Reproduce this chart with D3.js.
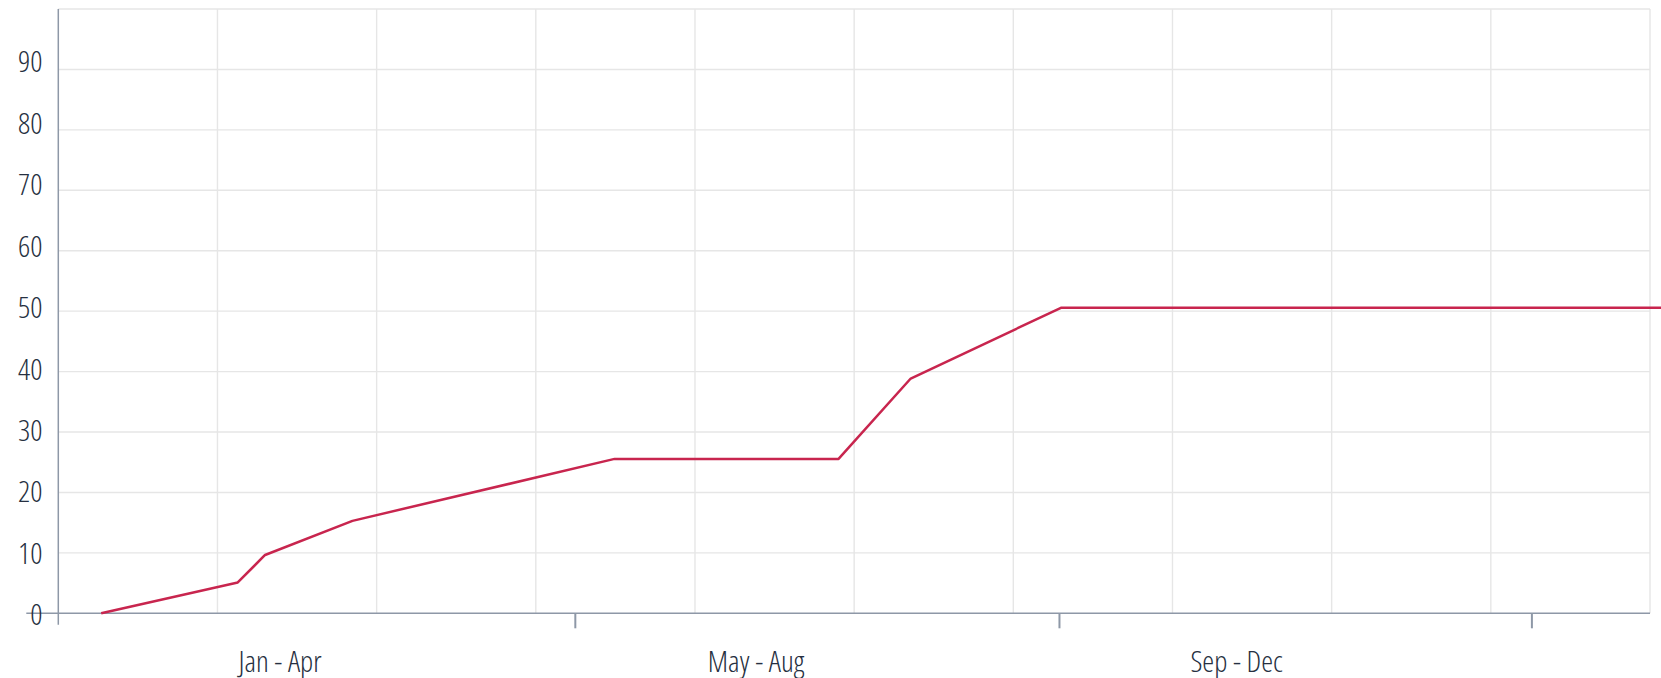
<!DOCTYPE html>
<html><head><meta charset="utf-8">
<script src="https://cdn.jsdelivr.net/npm/d3@7"></script>
<style>body{margin:0;background:#fff;overflow:hidden}</style>
</head><body><svg></svg>
<script>
// x values are days from Jan 1, y values are the running total
var days   = [-1, 34, 41, 63.4, 130.6, 188, 206.5, 245, 420];
var values = [0, 5.1, 9.65, 15.3, 25.55, 25.55, 38.85, 50.55, 50.55];

var periodLabels = ["Jan - Apr", "May - Aug", "Sep - Dec"];
var labelDays    = [44.7, 166.7, 289.9];
var tickDays     = [120.4, 244.5, 365.6];
var yTicks       = [0, 10, 20, 30, 40, 50, 60, 70, 80, 90];

var w = 1661, h = 678,
    mLeft = 58.3, mRight = 1650, mTop = 9, mBottom = 613.3;

var axisColor = "#8e98a7",
    gridColor = "#e6e6e6",
    textColor = "#263041",
    lineColor = "#c8254e",
    font = "'Open Sans', sans-serif";

var svg = d3.select("svg").attr("width", w).attr("height", h);

var x = d3.scaleLinear().domain([-12, 396]).range([mLeft, mRight]);
var y = d3.scaleLinear().domain([0, 100]).range([mBottom, mTop]);
// labels sit on a slightly stretched scale, like in the original
var yLab = d3.scaleLinear().domain([0, 100]).range([mBottom + 0.7, -0.4]);

// grid
var xDom = x.domain();
var vGrid = d3.range(11).map(function(i) { return xDom[0] + i * (xDom[1] - xDom[0]) / 10; });

svg.append("g").selectAll("line")
    .data(d3.range(10, 101, 10))
    .enter().append("line")
    .attr("x1", mLeft).attr("x2", mRight)
    .attr("y1", function(d) { return y(d); })
    .attr("y2", function(d) { return y(d); })
    .attr("stroke", gridColor)
    .attr("stroke-width", 1.4);

svg.append("g").selectAll("line")
    .data(vGrid.slice(1))
    .enter().append("line")
    .attr("x1", function(d) { return x(d); })
    .attr("x2", function(d) { return x(d); })
    .attr("y1", mTop).attr("y2", mBottom)
    .attr("stroke", gridColor)
    .attr("stroke-width", 1.4);

// axes lines
svg.append("line")
    .attr("x1", mLeft).attr("x2", mLeft)
    .attr("y1", mTop).attr("y2", mBottom + 11.5)
    .attr("stroke", axisColor).attr("stroke-width", 1.5);

svg.append("line")
    .attr("x1", mLeft - 32).attr("x2", mRight)
    .attr("y1", mBottom).attr("y2", mBottom)
    .attr("stroke", axisColor).attr("stroke-width", 1.5);

// x tick marks
svg.append("g")
    .attr("transform", "translate(0," + mBottom + ")")
    .call(d3.axisBottom(x).tickValues(tickDays).tickSize(15).tickFormat(""))
    .call(function(g) {
        g.select(".domain").remove();
        g.selectAll("line").attr("stroke", axisColor).attr("stroke-width", 2);
    });

// x labels
svg.append("g")
    .attr("transform", "translate(0," + mBottom + ")")
    .call(d3.axisBottom(x).tickValues(labelDays).tickSize(0)
        .tickFormat(function(d, i) { return periodLabels[i]; }))
    .call(function(g) {
        g.select(".domain").remove();
        g.selectAll("text")
            .attr("y", 0).attr("dy", 0)
            .attr("transform", "translate(0,58.5)")
            .attr("fill", textColor)
            .attr("font-family", font)
            .attr("font-weight", 360)
            .style("font-stretch", "condensed")
            .attr("font-size", "30px");
    });

// y labels
svg.append("g")
    .attr("transform", "translate(" + mLeft + ",0)")
    .call(d3.axisLeft(yLab).tickValues(yTicks).tickSize(0).tickPadding(15.8))
    .call(function(g) {
        g.select(".domain").remove();
        g.selectAll("text")
            .attr("dy", "0.36em")
            .attr("fill", textColor)
            .attr("font-family", font)
            .attr("font-weight", 360)
            .style("font-stretch", "condensed")
            .attr("font-size", "30px");
    });

// series line
var line = d3.line()
    .x(function(d, i) { return x(days[i]); })
    .y(function(d) { return y(d); });

svg.append("path")
    .datum(values)
    .attr("d", line)
    .attr("fill", "none")
    .attr("stroke", lineColor)
    .attr("stroke-width", 2.5)
    .attr("stroke-linejoin", "round");
</script></body></html>
